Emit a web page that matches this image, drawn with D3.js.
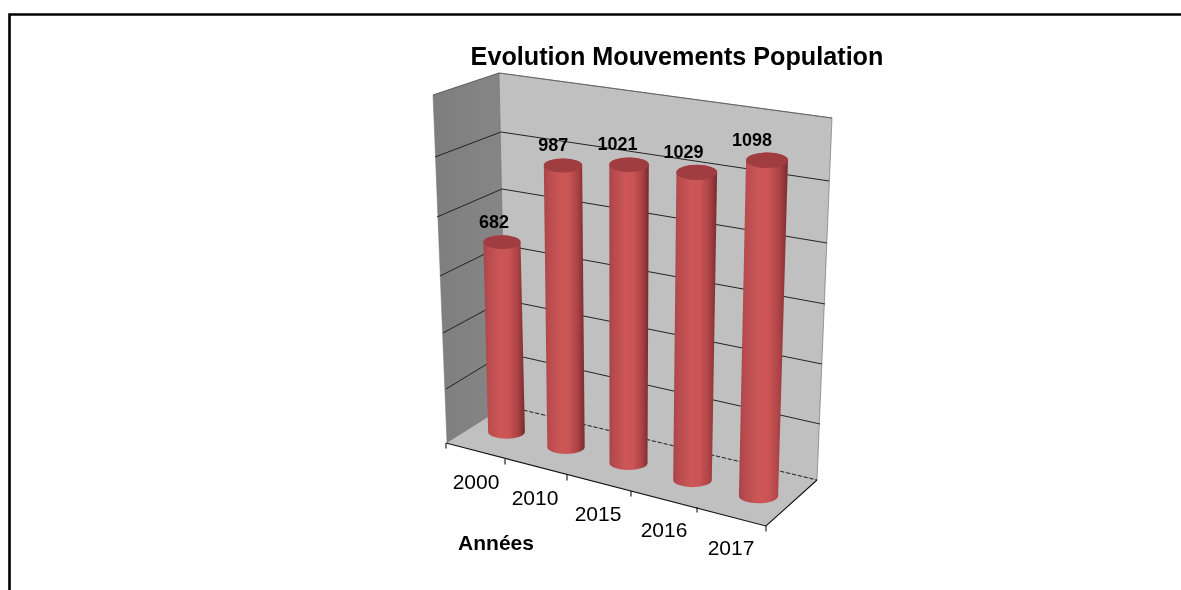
<!DOCTYPE html>
<html><head><meta charset="utf-8">
<script src="https://cdn.jsdelivr.net/npm/d3@7"></script>
<style>html,body{margin:0;padding:0;background:#fff}svg{display:block}text{font-family:"Liberation Sans",Arial,sans-serif;fill:#000}</style>
</head><body><script>
const years = ["2000","2010","2015","2016","2017"];
const values = [682,987,1021,1029,1098];
const yTicks = [0,200,400,600,800,1000,1200];
const title = "Evolution Mouvements Population";
const axisTitle = "Années";

const W=1181,H=590;
const root=d3.select("body").append("svg").attr("width",W).attr("height",H);
const defs=root.append("defs");
defs.append("filter").attr("id","soft").attr("x",0).attr("y",0).attr("width",1).attr("height",1)
  .append("feGaussianBlur").attr("stdDeviation",0.35);
const svg=root.append("g").attr("filter","url(#soft)");
svg.append("rect").attr("width",W).attr("height",H).attr("fill","#fff");

// Edges of the 3D box: each scale maps a value to a point on one vertical edge
const edge=(xs,ys)=>({x:d3.scaleLinear().domain(yTicks).range(xs),y:d3.scaleLinear().domain(yTicks).range(ys)});
const outer=edge([447,446,443,440,437,435,433],[443,389,333,276,217,157,95]);
const corner=edge([506,505,504,503,502,501,499],[406,353,300,245,189,132,73]);
const right=edge([817,820,822,825,827,829,832],[480,424,364,304,243,181,118]);
const P=(e,v)=>[e.x(v),e.y(v)];
const front=[766,526];

// Perspective-aware category scales, fitted to the picture
const idx=d3.range(years.length);
const baseX=d3.scaleLinear().domain(idx).range([506.5,566,628.5,692.5,758.5]);
const baseY=d3.scaleLinear().domain(idx).range([432,447,463,480,496]);
const fullH=d3.scaleLinear().domain([0,4]).range([334,367]);
const lean=d3.scaleLinear().domain([0,4]).range([-8,9.3]);
const rBase=d3.scaleLinear().domain([0,4]).range([18.4,19.6]);
const rTop=d3.scaleLinear().domain([0,4]).range([18.6,21]);
const frac=d3.scaleLinear().domain([0,1200]).range([0,1]);
const tickX=d3.scaleLinear().domain([0,1,2,3,4,5]).range([446,505,567,631,697,766]);
const tickY=d3.scaleLinear().domain([0,1,2,3,4,5]).range([443,459,475,491,507,526]);
const labelX=d3.scaleLinear().domain(idx).range([476,535,598,664,731]);
const labelY=d3.scaleLinear().domain(idx).range([489,505,521,537,555]);
const valOffset=d3.scaleLinear().domain([0,4]).range([-8,-15]);

const line=d3.line();
// Chart frame
svg.append("path").attr("d",line([[9.5,H+5],[9.5,14.5],[W+5,14.5]])).attr("fill","none").attr("stroke","#000").attr("stroke-width",2.6);

// Walls
const sideGrad=defs.append("linearGradient").attr("id","side").attr("x1",0).attr("x2",1).attr("y1",0).attr("y2",0);
sideGrad.append("stop").attr("offset",0).attr("stop-color","#7e7e7e");
sideGrad.append("stop").attr("offset",1).attr("stop-color","#868686");
const TOP=1200,BOT=0;
svg.append("path").attr("d",line([P(outer,TOP),P(corner,TOP),P(corner,BOT),P(outer,BOT)])+"Z").attr("fill","url(#side)").attr("stroke","#777").attr("stroke-width",.5);
svg.append("path").attr("d",line([P(corner,TOP),P(right,TOP),P(right,BOT),P(corner,BOT)])+"Z").attr("fill","#c0c0c0").attr("stroke","#666").attr("stroke-width",.6);
svg.append("path").attr("d",line([P(outer,BOT),P(corner,BOT),P(right,BOT),front])+"Z").attr("fill","#c0c0c0");

// Gridlines
yTicks.forEach(v=>{
  const pts = v===0 ? [P(corner,v),P(right,v)] : [P(outer,v),P(corner,v),P(right,v)];
  svg.append("path").attr("d",line(pts)).attr("fill","none")
    .attr("stroke",v===1200?"#555":"#222").attr("stroke-width",v===1200?.8:1)
    .attr("stroke-dasharray",v===0?"4 2":null);
});

// Floor front edges and ticks
svg.append("path").attr("d",line([[tickX(0),tickY(0)],[tickX(5),tickY(5)],P(right,BOT)])).attr("fill","none").attr("stroke","#111").attr("stroke-width",1.1);
d3.range(6).forEach(i=>svg.append("line").attr("x1",tickX(i)).attr("x2",tickX(i)).attr("y1",tickY(i)).attr("y2",tickY(i)+5.5).attr("stroke","#111").attr("stroke-width",1.1));

// Cylinder shading
const g=defs.append("linearGradient").attr("id","cyl").attr("x1",0).attr("x2",1).attr("y1",0).attr("y2",0);
[[0,"#a8434a"],[.12,"#b84c4e"],[.42,"#cd5657"],[.62,"#c95354"],[.84,"#a84144"],[1,"#772a2c"]].forEach(s=>g.append("stop").attr("offset",s[0]).attr("stop-color",s[1]));

// Cylinders
const ryRatio=0.37;
values.forEach((v,i)=>{
  const bx=baseX(i),by=baseY(i),f=frac(v);
  const tx=bx+lean(i)*f, ty=by-fullH(i)*f;
  const rb=rBase(i), rt=rTop(i)*(0.6+0.4*f)+ (rBase(i))*(0.4-0.4*f);
  const ryb=rb*ryRatio, ryt=rt*ryRatio;
  const d=`M${tx-rt},${ty}L${bx-rb},${by}A${rb},${ryb} 0 0 0 ${bx+rb},${by}L${tx+rt},${ty}A${rt},${ryt} 0 0 0 ${tx-rt},${ty}Z`;
  svg.append("path").attr("d",d).attr("fill","url(#cyl)");
  svg.append("ellipse").attr("cx",tx).attr("cy",ty).attr("rx",rt).attr("ry",ryt).attr("fill","#a03c40");
  svg.append("text").attr("x",tx+valOffset(i)).attr("y",ty-14.5).attr("text-anchor","middle")
    .attr("font-size",18).attr("font-weight","bold").text(v);
});

// Axis labels
years.forEach((y,i)=>svg.append("text").attr("x",labelX(i)).attr("y",labelY(i)).attr("text-anchor","middle").attr("font-size",21).text(y));
svg.append("text").attr("x",496).attr("y",550).attr("text-anchor","middle").attr("font-size",21).attr("font-weight","bold").text(axisTitle);
svg.append("text").attr("x",677).attr("y",65).attr("text-anchor","middle").attr("font-size",25.2).attr("font-weight","bold").text(title);
</script></body></html>
